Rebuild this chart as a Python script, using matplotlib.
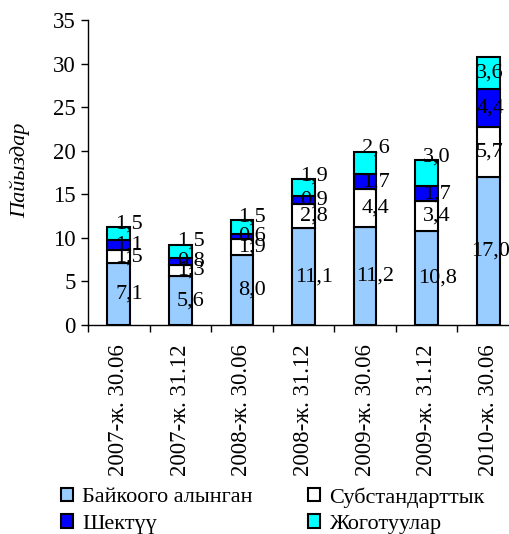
import numpy as np
import matplotlib.pyplot as plt

plt.rcParams['font.family'] = ['Liberation Serif', 'DejaVu Serif']

categories = ['2007-ж. 30.06', '2007-ж. 31.12', '2008-ж. 30.06', '2008-ж. 31.12',
              '2009-ж. 30.06', '2009-ж. 31.12', '2010-ж. 30.06']
series_names = ['Байкоого алынган', 'Субстандарттык', 'Шектүү', 'Жоготуулар']
observed = [7.1, 5.6, 8.0, 11.1, 11.2, 10.8, 17.0]
substandard = [1.5, 1.3, 1.9, 2.8, 4.4, 3.4, 5.7]
doubtful = [1.1, 0.8, 0.6, 0.9, 1.7, 1.7, 4.4]
losses = [1.5, 1.5, 1.5, 1.9, 2.6, 3.0, 3.6]
labels_txt = [['7,1', '5,6', '8,0', '11,1', '11,2', '10,8', '17,0'],
              ['1,5', '1,3', '1,9', '2,8', '4,4', '3,4', '5,7'],
              ['1,1', '0,8', '0,6', '0,9', '1,7', '1,7', '4,4'],
              ['1,5', '1,5', '1,5', '1,9', '2,6', '3,0', '3,6']]

colors = ['#99CCFF', '#FFFFFF', '#0000FF', '#00FFFF']

fig = plt.figure(figsize=(5.09, 5.34), dpi=100)
ax = fig.add_axes([88/509, 1-325/534, 431/509, 305/534])

x = np.arange(len(categories))
data = [observed, substandard, doubtful, losses]
bottom = np.zeros(len(categories))
handles = []
for i, vals in enumerate(data):
    vals = np.array(vals)
    b = ax.bar(x, vals, 0.37, bottom=bottom, color=colors[i], edgecolor='black',
               linewidth=1.5, label=series_names[i], zorder=2)
    handles.append(b)
    for j in range(len(x)):
        yc = bottom[j] + vals[j] / 2
        if i == 3 and vals[j] < 3.5:
            yc = bottom[j] + vals[j] + 0.4
        # keep the labels of the last bar inside the picture
        xl = min(x[j] + 0.17, 6.03)
        ax.text(xl, yc, labels_txt[i][j], ha='center', va='center',
                fontsize=16, zorder=3)
    bottom = bottom + vals

ax.set_xlim(-0.5, len(categories) - 0.5)
ax.set_ylim(0, 35)
ax.set_yticks(range(0, 36, 5))
ax.tick_params(axis='y', labelsize=16.5, length=5, width=1, direction='out', pad=4)
ax.set_xticks(x)
ax.set_xticklabels(categories, rotation=90, fontsize=16.5)
ax.tick_params(axis='x', length=0, pad=14)
ax.set_xticks(np.arange(-0.5, len(categories), 1.0), minor=True)
ax.tick_params(axis='x', which='minor', length=5, width=1, direction='out')
ax.spines['top'].set_visible(False)
ax.spines['right'].set_visible(False)
ax.spines['left'].set_linewidth(1)
ax.spines['bottom'].set_linewidth(1)

fig.text(20/509, 1-170/534, 'Пайыздар', rotation=90, style='italic',
         fontsize=16, ha='center', va='center')

order = [0, 2, 1, 3]
fig.legend([handles[k] for k in order], [series_names[k] for k in order],
           ncol=2, loc='upper left', bbox_to_anchor=(61/509, 1-487/534),
           frameon=False, fontsize=16, handlelength=0.55, handleheight=0.55,
           handletextpad=0.4, columnspacing=2.5, labelspacing=0.3,
           borderpad=0, borderaxespad=0)

fig.savefig('out.png', dpi=100)
